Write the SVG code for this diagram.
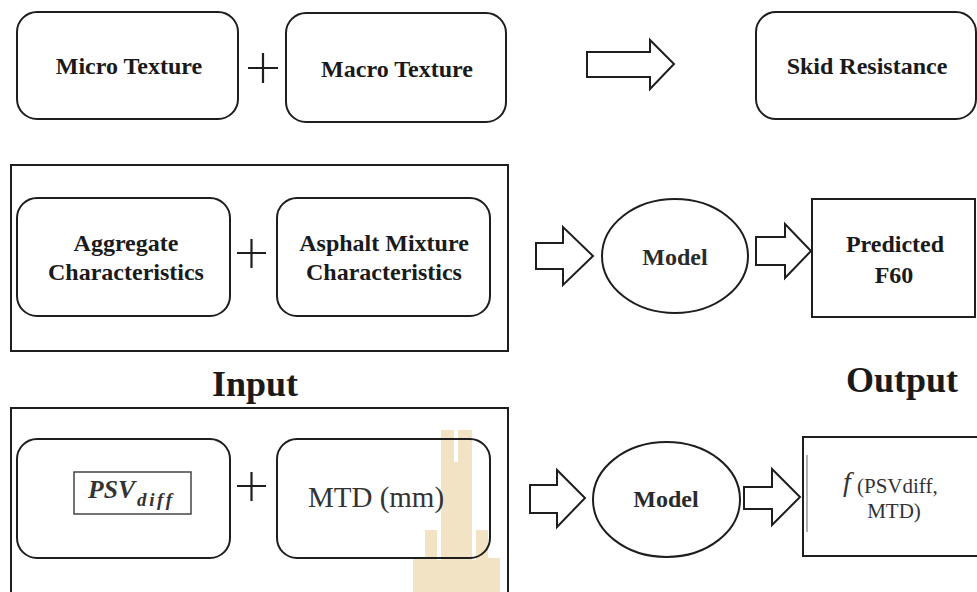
<svg xmlns="http://www.w3.org/2000/svg" width="977" height="592" viewBox="0 0 977 592">
  <style>
    .box { fill: none; stroke: #1e1e1e; stroke-width: 2; }
    .frame { fill: none; stroke: #1e1e1e; stroke-width: 2; }
    .thin { fill: none; stroke: #444; stroke-width: 1.5; }
    .arrow { fill: #fff; stroke: #1e1e1e; stroke-width: 2; stroke-linejoin: miter; }
    .plus { stroke: #1e1e1e; stroke-width: 2.2; }
    .lbl { font-family: "Liberation Serif", "Times New Roman", serif; font-weight: bold; font-size: 24px; fill: #1a1a1a; text-anchor: middle; }
    .head { font-family: "Liberation Serif", "Times New Roman", serif; font-weight: bold; font-size: 36px; fill: #1a1a1a; text-anchor: middle; }
    .reg { font-family: "Liberation Serif", "Times New Roman", serif; fill: #333; }
    .mark { fill: #f1e3c3; }
  </style>

  <rect width="977" height="592" fill="#fff"/>

  <!-- background emblem -->
  <g id="emblem">
    <path class="mark" d="M441,430 H454 V462 H458 V430 H472 V592 H441 Z"/>
    <path class="mark" d="M425,530 H437 V560 H441 V592 H413 V558 H425 Z"/>
    <path class="mark" d="M476,530 H488 V558 H500 V592 H472 V560 H476 Z"/>
  </g>

  <!-- row 1 -->
  <g id="micro-texture">
    <rect class="box" x="17" y="12" width="221" height="107" rx="20"/>
    <text class="lbl" x="129" y="74">Micro Texture</text>
  </g>
  <g id="macro-texture">
    <rect class="box" x="286" y="13" width="220" height="109" rx="20"/>
    <text class="lbl" x="397" y="77">Macro Texture</text>
  </g>
  <g id="skid-resistance">
    <rect class="box" x="756" y="12" width="220" height="107" rx="20"/>
    <text class="lbl" x="867" y="74">Skid Resistance</text>
  </g>

  <!-- row 2 -->
  <g id="input-group-1">
    <rect class="frame" x="11" y="165" width="497" height="186"/>
  </g>
  <g id="aggregate">
    <rect class="box" x="17" y="198" width="213" height="118" rx="20"/>
    <text class="lbl" x="126" y="251">Aggregate</text>
    <text class="lbl" x="126" y="280">Characteristics</text>
  </g>
  <g id="asphalt-mixture">
    <rect class="box" x="277" y="198" width="213" height="118" rx="20"/>
    <text class="lbl" x="384" y="251">Asphalt Mixture</text>
    <text class="lbl" x="384" y="280">Characteristics</text>
  </g>
  <g id="model-1">
    <ellipse class="box" cx="675" cy="256" rx="73" ry="57"/>
    <text class="lbl" x="675" y="265" style="fill:#2a2a2a">Model</text>
  </g>
  <g id="predicted-f60">
    <rect class="frame" x="812" y="199" width="163" height="118"/>
    <text class="lbl" x="895" y="252">Predicted</text>
    <text class="lbl" x="894" y="283">F60</text>
  </g>

  <!-- headings -->
  <g id="headings">
    <text class="head" x="255" y="396">Input</text>
    <text class="head" x="902" y="392">Output</text>
  </g>

  <!-- row 3 -->
  <g id="input-group-2">
    <rect class="frame" x="11" y="408" width="497" height="200"/>
  </g>
  <g id="psv-diff">
    <rect class="box" x="17" y="439" width="213" height="119" rx="20"/>
    <rect class="thin" x="74" y="472" width="117" height="42"/>
    <text class="reg" x="88" y="498" font-size="26" font-weight="bold" font-style="italic" fill="#1a1a1a" textLength="47" lengthAdjust="spacingAndGlyphs">PSV</text>
    <text class="reg" x="137" y="506" font-size="19" font-weight="bold" font-style="italic" fill="#1a1a1a" textLength="35" lengthAdjust="spacing">diff</text>
  </g>
  <g id="mtd">
    <rect class="box" x="277" y="439" width="213" height="119" rx="20"/>
    <text class="reg" x="376" y="507" font-size="29" text-anchor="middle">MTD (mm)</text>
  </g>
  <g id="model-2">
    <ellipse class="box" cx="666.5" cy="499.5" rx="73.5" ry="57.5"/>
    <text class="lbl" x="666" y="507" style="fill:#2a2a2a">Model</text>
  </g>
  <g id="output-function">
    <rect class="frame" x="803" y="437" width="190" height="119"/>
    <line x1="807" y1="455" x2="807" y2="532" stroke="#999" stroke-width="1.5"/>
    <text class="reg" x="843" y="491" font-size="28" font-style="italic" fill="#222">f</text>
    <text class="reg" x="857" y="493" font-size="21">(PSVdiff,</text>
    <text class="reg" x="894" y="518" font-size="21" text-anchor="middle">MTD)</text>
  </g>

  <!-- connectors: plus signs and block arrows -->
  <g id="connectors">
    <path class="plus" d="M248,68 H278 M263,53 V83"/>
    <path class="plus" d="M237,253 H266 M251.5,239 V268"/>
    <path class="plus" d="M237,486 H266 M251.5,472 V501"/>
    <path class="arrow" d="M587,52 H650 V40 L674,64 L650,89 V77 H587 Z"/>
    <path class="arrow" d="M536,243 H563 V227 L593,256 L563,285 V269 H536 Z"/>
    <path class="arrow" d="M756,237 H785 V224 L811,251 L785,278 V265 H756 Z"/>
    <path class="arrow" d="M530,485 H557 V470 L585,498 L557,527 V513 H530 Z"/>
    <path class="arrow" d="M744,487 H772 V469 L800,497 L772,525 V509 H744 Z"/>
  </g>
</svg>
